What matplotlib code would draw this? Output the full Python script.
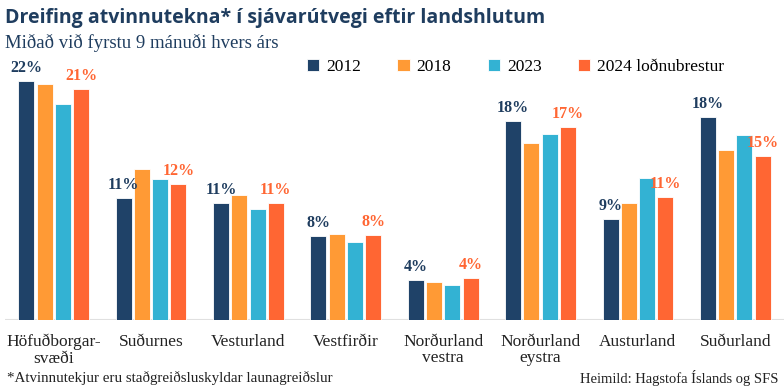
import matplotlib.pyplot as plt
import numpy as np

regions = ['Höfuðborgar-\nsvæði', 'Suðurnes', 'Vesturland', 'Vestfirðir',
           'Norðurland\nvestra', 'Norðurland\neystra', 'Austurland', 'Suðurland']
years = ['2012', '2018', '2023', '2024 loðnubrestur']
v2012 = [21.6, 11.0, 10.6, 7.6, 3.6, 18.0, 9.1, 18.3]
v2018 = [21.3, 13.6, 11.3, 7.8, 3.4, 16.0, 10.6, 15.3]
v2023 = [19.5, 12.7, 10.0, 7.0, 3.2, 16.8, 12.8, 16.7]
v2024 = [20.8, 12.3, 10.6, 7.7, 3.8, 17.4, 11.1, 14.8]

colors = ['#1f4268', '#ff9a35', '#33b2d3', '#ff6633']
navy = '#1f3d5f'
serif = 'Liberation Serif'

fig = plt.figure(figsize=(7.84, 3.88), dpi=100)
ax = fig.add_axes([5/784, 68/388, 779/784, 266/388])

x = np.arange(len(regions))
slot = 0.1875
width = 0.165
series = [v2012, v2018, v2023, v2024]
for i, vals in enumerate(series):
    pos = x + (i - 1.5) * slot
    ax.bar(pos, vals, width=width, color=colors[i],
           edgecolor='white', linewidth=0.6, label=years[i], zorder=2)
    if i in (0, 3):
        for p, v in zip(pos, vals):
            ax.text(p, v + 0.45, '%d%%' % round(v), ha='center', va='bottom',
                    fontsize=11.5, color=colors[i] if i == 3 else navy,
                    family=serif, fontweight='bold')

ax.set_xlim(-0.5, 7.5)
ax.set_ylim(0, 24)
ax.axhline(0, color='#e0e0e0', linewidth=1.5, zorder=1)
for s in ax.spines.values():
    s.set_visible(False)
ax.set_yticks([])
ax.set_xticks(x)
ax.set_xticklabels(regions, family=serif, fontsize=12.5, color='#222222',
                   linespacing=1.05, va='top')
ax.tick_params(axis='x', length=0, pad=10)

ax.legend(loc='upper right', bbox_to_anchor=(0.932, 1.007), ncol=4, frameon=False,
          prop={'family': serif, 'size': 12.5}, handlelength=0.7, handleheight=0.7,
          handletextpad=0.4, columnspacing=2.1, borderaxespad=0)

fig.text(5/784, 1 - 18/388, 'Dreifing atvinnutekna* í sjávarútvegi eftir landshlutum',
         fontsize=14, fontweight='bold', color=navy, family='Open Sans', va='center')
fig.text(5/784, 1 - 43/388, 'Miðað við fyrstu 9 mánuði hvers árs',
         fontsize=13.5, color=navy, family=serif, va='center')
fig.text(7/784, 1 - 378/388, '*Atvinnutekjur eru staðgreiðsluskyldar launagreiðslur',
         fontsize=10.8, color='#222222', family=serif, va='center')
fig.text(779/784, 1 - 378/388, 'Heimild: Hagstofa Íslands og SFS',
         fontsize=10.5, color='#222222', family=serif, va='center', ha='right')

fig.savefig('out.png', dpi=100)
